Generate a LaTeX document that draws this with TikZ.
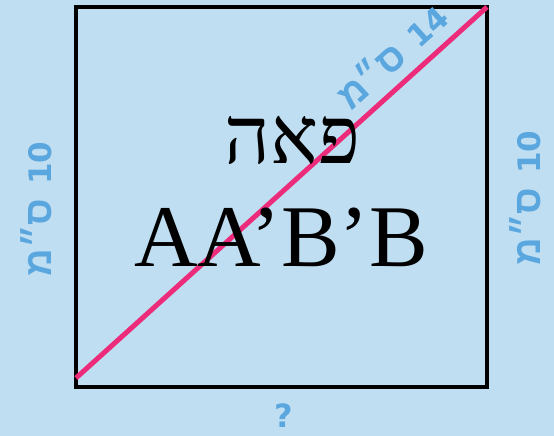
\documentclass[tikz,border=0pt]{standalone}
\usepackage{fontspec}
\setmainfont{Liberation Serif}
\newfontfamily\hebserif[Script=Hebrew]{Liberation Serif}
\newfontfamily\hebsans[Script=Hebrew]{DejaVu Sans}
\newfontfamily\hebarial[Script=Hebrew]{Liberation Sans}
\TeXXeTstate=1
\usetikzlibrary{positioning}
\definecolor{pcceu}{HTML}{C0DEF2}
\definecolor{pcazul}{HTML}{5AA6DE}
\definecolor{pcrosa}{HTML}{EC2C7A}
\newcommand{\pccm}[1]{\beginR\beginL #1\endL\hspace{14pt}{\hebarial\bfseries\fontsize{38}{38}\selectfont ס״מ}\endR}
\tikzset{
  pcquadro/.style={draw=black, line width=4pt, inner sep=0pt, outer sep=0pt},
  pcdiagonal/.style={draw=pcrosa, line width=5pt},
  pcmedida/.style={text=pcazul, inner sep=0pt, font=\hebsans\bfseries\fontsize{31}{31}\selectfont},
  pctitulo/.style={text=black, inner sep=0pt},
}
\begin{document}
\begin{tikzpicture}[x=1pt,y=-1pt]
        \useasboundingbox (0,0) rectangle (554,436);
        \fill[pcceu] (0,0) rectangle (554,436);
        % ---------------- quadro e diagonal ----------------
        \node[pcquadro, minimum width=411pt, minimum height=380pt] (quadro) at (281.5,197) {};
        \coordinate (diaginicio) at (76,378);
        \draw[pcdiagonal] (diaginicio) -- (quadro.north east);
        % ---------------- textos ----------------
        \node[pctitulo, font=\hebserif\fontsize{80}{80}\selectfont] (nome) at (292,140) {\beginR פאה\endR};
        \node[pctitulo, font=\fontsize{88}{88}\selectfont] (vertices) at (281,237) {AA’B’B};
        \node[pcmedida, rotate=90] (ladoesq) at (36,209) {\pccm{10}};
        \node[pcmedida, rotate=90] (ladodir) at (525,198) {\pccm{10}};
        \node[pcmedida, rotate=42.2] (diagonal) at (391,55) {\pccm{14}};
        \node[pcmedida, font=\hebsans\bfseries\fontsize{32}{32}\selectfont] (base) at (284,416) {?};
    \end{tikzpicture}
\end{document}
